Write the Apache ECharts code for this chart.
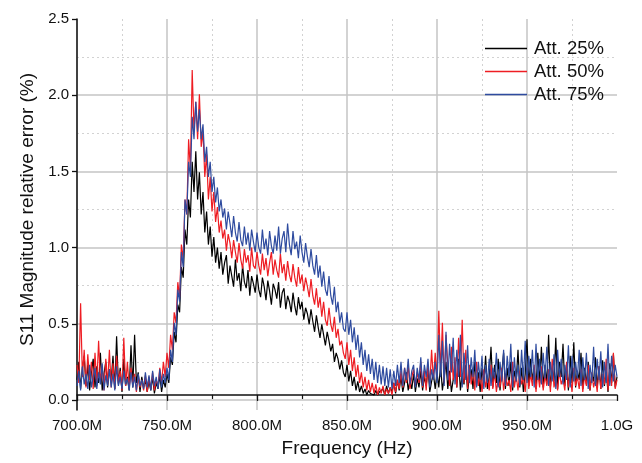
<!DOCTYPE html>
<html>
<head>
<meta charset="utf-8">
<script src="https://cdn.jsdelivr.net/npm/echarts@6/dist/echarts.min.js"></script>
<style>html,body{margin:0;padding:0;background:#fff}#c{width:642px;height:463px}</style>
</head>
<body>
<div id="c"></div>
<script>
// Frequency in MHz (1 MHz steps from 700 to 1000)
const freqStart = 700, freqStep = 1;
const xTickLabels = ['700.0M','750.0M','800.0M','850.0M','900.0M','950.0M','1.0G'];
const yTickLabels = ['0.0','0.5','1.0','1.5','2.0','2.5'];
const seriesNames = ['Att. 25%','Att. 50%','Att. 75%'];

const att25 = [
0.10,0.22,0.04,0.18,0.26,0.06,0.20,0.03,0.15,0.24,
0.05,0.19,0.08,0.28,0.03,0.14,0.22,0.05,0.17,0.10,
0.26,0.04,0.39,0.07,0.18,0.02,0.24,0.06,0.12,0.03,
0.33,0.05,0.40,0.08,0.15,0.02,0.12,0.05,0.10,0.02,
0.09,0.03,0.12,0.01,0.08,0.04,0.13,0.02,0.10,0.05,
0.14,0.08,0.25,0.20,0.42,0.35,0.60,0.55,0.85,0.78,
1.10,1.00,1.30,1.18,1.55,1.35,1.62,1.30,1.48,1.20,
1.35,1.08,1.22,1.00,1.12,0.92,1.05,0.88,0.98,0.84,
0.95,0.80,0.88,0.93,0.74,0.86,0.79,0.72,0.90,0.76,
0.81,0.69,0.86,0.75,0.71,0.83,0.66,0.79,0.74,0.68,
0.80,0.70,0.65,0.78,0.72,0.63,0.76,0.69,0.60,0.74,
0.70,0.64,0.75,0.58,0.68,0.71,0.57,0.66,0.62,0.55,
0.68,0.59,0.53,0.65,0.57,0.62,0.50,0.58,0.54,0.47,
0.57,0.49,0.42,0.53,0.45,0.38,0.47,0.40,0.33,0.42,
0.36,0.29,0.34,0.22,0.28,0.24,0.17,0.23,0.15,0.12,
0.20,0.09,0.16,0.06,0.12,0.03,0.09,0.02,0.06,0.01,
0.04,0.00,0.03,0.01,0.02,0.00,0.03,0.00,0.02,0.01,
0.04,0.00,0.06,0.01,0.05,0.02,0.08,0.01,0.10,0.03,
0.12,0.02,0.08,0.15,0.03,0.10,0.04,0.14,0.02,0.11,
0.05,0.16,0.03,0.12,0.06,0.18,0.02,0.09,0.14,0.04,
0.15,0.05,0.20,0.03,0.12,0.22,0.04,0.16,0.02,0.10,
0.18,0.05,0.24,0.03,0.14,0.07,0.20,0.02,0.12,0.17,
0.04,0.22,0.06,0.15,0.02,0.18,0.08,0.26,0.04,0.12,
0.32,0.05,0.20,0.08,0.24,0.03,0.15,0.28,0.04,0.18,
0.06,0.22,0.03,0.16,0.09,0.30,0.05,0.18,0.02,0.14,
0.37,0.06,0.24,0.10,0.18,0.04,0.28,0.08,0.32,0.05,
0.20,0.07,0.40,0.05,0.18,0.09,0.38,0.04,0.22,0.12,
0.34,0.06,0.20,0.03,0.26,0.08,0.35,0.05,0.16,0.10,
0.28,0.04,0.18,0.07,0.22,0.03,0.14,0.09,0.25,0.05,
0.19,0.04,0.23,0.06,0.15,0.02,0.21,0.08,0.27,0.05,
0.12
];
const att50 = [
0.20,0.08,0.61,0.12,0.30,0.05,0.27,0.10,0.22,0.04,
0.28,0.06,0.36,0.09,0.18,0.03,0.24,0.07,0.30,0.05,
0.21,0.04,0.26,0.08,0.16,0.03,0.38,0.06,0.22,0.04,
0.18,0.06,0.14,0.02,0.12,0.05,0.10,0.03,0.13,0.02,
0.12,0.04,0.15,0.03,0.10,0.06,0.18,0.08,0.22,0.12,
0.28,0.18,0.40,0.30,0.55,0.48,0.75,0.65,1.00,0.90,
1.30,1.20,1.70,1.50,2.16,1.75,1.95,1.70,2.00,1.65,
1.75,1.45,1.60,1.30,1.45,1.22,1.35,1.15,1.25,1.08,
1.16,1.04,1.10,0.96,1.07,1.01,0.91,1.03,0.95,0.88,
1.01,0.90,0.84,0.97,0.88,0.93,0.82,0.98,0.86,0.84,
0.95,0.86,0.80,0.94,0.83,0.91,0.79,0.88,0.95,0.80,
0.90,0.83,0.78,0.94,0.81,0.87,0.76,0.89,0.80,0.75,
0.87,0.78,0.72,0.85,0.74,0.80,0.69,0.78,0.72,0.65,
0.77,0.66,0.60,0.71,0.58,0.65,0.52,0.62,0.50,0.46,
0.58,0.47,0.42,0.52,0.38,0.44,0.33,0.36,0.28,0.24,
0.35,0.20,0.30,0.16,0.25,0.12,0.20,0.08,0.15,0.05,
0.12,0.03,0.10,0.02,0.08,0.01,0.07,0.00,0.05,0.01,
0.06,0.00,0.04,0.01,0.05,0.00,0.08,0.02,0.10,0.04,
0.16,0.05,0.18,0.08,0.20,0.04,0.12,0.17,0.06,0.15,
0.08,0.22,0.05,0.16,0.03,0.20,0.07,0.30,0.10,0.28,
0.12,0.56,0.15,0.48,0.08,0.40,0.20,0.06,0.32,0.10,
0.25,0.05,0.38,0.12,0.50,0.08,0.30,0.04,0.20,0.07,
0.18,0.03,0.22,0.06,0.14,0.02,0.17,0.05,0.12,0.03,
0.20,0.04,0.15,0.02,0.11,0.05,0.18,0.03,0.14,0.06,
0.10,0.02,0.22,0.05,0.13,0.03,0.16,0.07,0.12,0.02,
0.18,0.04,0.14,0.06,0.20,0.02,0.15,0.05,0.19,0.03,
0.13,0.06,0.17,0.02,0.24,0.05,0.12,0.03,0.16,0.07,
0.11,0.03,0.22,0.05,0.14,0.02,0.18,0.06,0.12,0.04,
0.17,0.02,0.13,0.06,0.20,0.03,0.15,0.05,0.11,0.02,
0.19,0.04,0.14,0.07,0.24,0.03,0.17,0.06,0.28,0.04,
0.10
];
const att75 = [
0.06,0.16,0.03,0.19,0.07,0.14,0.04,0.20,0.05,0.12,
0.18,0.04,0.15,0.07,0.21,0.03,0.13,0.06,0.17,0.05,
0.14,0.03,0.19,0.06,0.12,0.04,0.16,0.07,0.11,0.03,
0.15,0.05,0.12,0.03,0.14,0.06,0.10,0.04,0.15,0.05,
0.13,0.03,0.16,0.06,0.12,0.04,0.17,0.05,0.14,0.08,
0.18,0.10,0.30,0.22,0.48,0.40,0.70,0.62,0.95,0.85,
1.30,1.20,1.55,1.45,1.85,1.70,1.95,1.75,1.90,1.70,
1.80,1.55,1.65,1.45,1.55,1.35,1.45,1.28,1.38,1.22,
1.30,1.18,1.24,1.10,1.22,1.14,1.05,1.19,1.08,1.02,
1.15,1.03,0.99,1.12,1.00,1.08,0.96,1.10,1.02,0.95,
1.08,0.98,0.94,1.10,0.97,1.04,0.93,1.09,0.99,0.94,
1.06,0.96,1.12,0.94,1.04,1.09,0.95,1.14,1.00,0.93,
1.09,0.97,1.02,0.91,1.06,0.95,0.88,1.01,0.92,0.85,
0.97,0.86,0.80,0.93,0.78,0.86,0.72,0.82,0.70,0.66,
0.79,0.66,0.60,0.72,0.55,0.62,0.48,0.55,0.44,0.42,
0.55,0.40,0.50,0.35,0.45,0.30,0.40,0.25,0.35,0.20,
0.30,0.16,0.27,0.14,0.24,0.10,0.22,0.08,0.20,0.07,
0.19,0.06,0.18,0.05,0.17,0.04,0.16,0.06,0.20,0.08,
0.22,0.06,0.18,0.10,0.24,0.07,0.16,0.20,0.05,0.18,
0.10,0.25,0.06,0.20,0.12,0.24,0.05,0.17,0.10,0.22,
0.08,0.40,0.12,0.36,0.06,0.42,0.10,0.34,0.15,0.38,
0.07,0.30,0.12,0.40,0.05,0.28,0.10,0.33,0.08,0.25,
0.12,0.30,0.05,0.22,0.10,0.26,0.04,0.20,0.08,0.24,
0.06,0.18,0.11,0.28,0.05,0.22,0.09,0.30,0.06,0.26,
0.12,0.34,0.05,0.25,0.09,0.20,0.06,0.30,0.10,0.36,
0.08,0.26,0.12,0.30,0.05,0.34,0.10,0.24,0.07,0.28,
0.11,0.32,0.06,0.22,0.09,0.27,0.04,0.30,0.12,0.24,
0.07,0.20,0.10,0.33,0.05,0.26,0.09,0.22,0.11,0.30,
0.06,0.25,0.10,0.28,0.04,0.20,0.08,0.32,0.06,0.24,
0.10,0.29,0.05,0.22,0.08,0.34,0.06,0.26,0.09,0.20,
0.12
];
const colors = ['#000000','#ee1d23','#2e4b9f'];

function toPairs(arr){ return arr.map((v,i)=>[freqStart + i*freqStep, v]); }

const font = "'Liberation Sans', Arial, sans-serif";
const chart = echarts.init(document.getElementById('c'), null, {renderer:'canvas'});
const majorGrid = {show:true, lineStyle:{color:'#c4c4c4', width:1.5, type:'solid'}};
const minorGrid = {show:true, lineStyle:{color:'#d2d2d2', width:1, type:[2,3]}};

chart.setOption({
  animation:false,
  backgroundColor:'#fff',
  color: colors,
  grid:[
    {left:77, right:25, top:19, bottom:48},
    {left:77, right:25, top:19, bottom:63}
  ],
  legend:{
    data:seriesNames, orient:'vertical', left:480, top:34,
    icon:'rect', itemWidth:42, itemHeight:1.6, itemGap:4,
    textStyle:{fontFamily:font, fontSize:18.5, lineHeight:19, color:'#111', padding:[0,0,0,2]}
  },
  xAxis:[
    {gridIndex:0, type:'value', min:700, max:1000, interval:50,
     name:'Frequency (Hz)', nameLocation:'middle', nameGap:29,
     nameTextStyle:{fontFamily:font, fontSize:19, color:'#111'},
     axisLine:{show:true, lineStyle:{color:'#111', width:1.5}},
     axisTick:{show:true, length:6, lineStyle:{color:'#111', width:1.3}},
     minorTick:{show:true, splitNumber:2, length:4, lineStyle:{color:'#111', width:1.2}},
     axisLabel:{fontFamily:font, fontSize:15, color:'#111', margin:8,
       formatter:(v)=>xTickLabels[Math.round((v-700)/50)]},
     splitLine:Object.assign({showMaxLine:false}, majorGrid),
     minorSplitLine:minorGrid},
    {gridIndex:1, type:'value', min:700, max:1000, interval:50, show:false}
  ],
  yAxis:[
    {gridIndex:0, type:'value', min:-0.1, max:2.5,
     axisLine:{show:true, lineStyle:{color:'#111', width:1.5}},
     axisTick:{show:false}, axisLabel:{show:false}, splitLine:{show:false}},
    {gridIndex:1, type:'value', min:0, max:2.5, interval:0.5,
     name:'S11 Magnitude relative error (%)', nameLocation:'middle', nameGap:37,
     nameTextStyle:{fontFamily:font, fontSize:19, color:'#111'},
     axisLine:{show:false},
     axisTick:{show:true, length:5, lineStyle:{color:'#111', width:1.3}},
     axisLabel:{fontFamily:font, fontSize:15, color:'#111', margin:8,
       formatter:(v)=>yTickLabels[Math.round(v/0.5)]},
     splitLine:Object.assign({showMaxLine:false}, majorGrid),
     minorTick:{show:true, splitNumber:2, length:0, lineStyle:{width:0}},
     minorSplitLine:minorGrid}
  ],
  series:[att25, att50, att75].map((arr,k)=>({
    name:seriesNames[k], type:'line', xAxisIndex:0, yAxisIndex:0,
    data:toPairs(arr), showSymbol:false, symbol:'none',
    lineStyle:{width:1.2, color:colors[k]}, z:2+k
  }))
});
</script>
</body>
</html>
